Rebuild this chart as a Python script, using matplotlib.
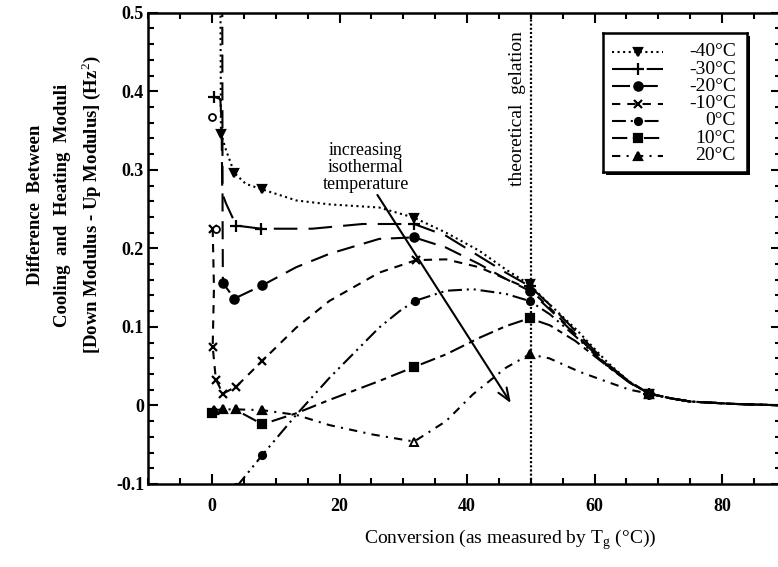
import matplotlib
matplotlib.use("Agg")
import matplotlib.pyplot as plt
from matplotlib.patches import Rectangle
from matplotlib.ticker import MultipleLocator

plt.rcParams['font.family'] = ['Liberation Serif', 'DejaVu Serif']
plt.rcParams['mathtext.fontset'] = 'custom'
plt.rcParams['mathtext.rm'] = 'Liberation Serif'
plt.rcParams['lines.scale_dashes'] = False

# ---- values ----
labels = ['-40°C', '-30°C', '-20°C', '-10°C', '0°C', '10°C', '20°C']

# every curve merges into the same tail after the last point
tail_x = [68.6, 72.0, 75.0, 81.6, 90.0]
tail_y = [0.015, 0.009, 0.005, 0.002, 0.0]

# -40 C  (m = measured points, c = smoothed line as drawn)
m40_x = [1.4, 3.5, 7.9, 31.7, 49.8, 68.6]
m40_y = [0.346, 0.296, 0.275, 0.239, 0.154, 0.015]
c40_x = [1.3, 1.4, 2.2, 3.5, 5.3, 7.9, 13.2, 18.4, 26.2, 31.7, 36.7, 41.9, 46.1, 49.8, 52.9, 57.1, 62.0, 65.5]
c40_y = [0.55, 0.346, 0.325, 0.296, 0.282, 0.275, 0.261, 0.256, 0.252, 0.239, 0.220, 0.197, 0.173, 0.154, 0.129, 0.097, 0.055, 0.030]

# -30 C
m30_x = [0.36, 3.8, 7.7, 31.7, 49.8, 68.6]
m30_y = [0.393, 0.229, 0.225, 0.231, 0.152, 0.015]
c30_x = [0.36, 1.3, 1.5, 1.6, 2.2, 3.8, 7.7, 15.7, 23.6, 31.7, 36.7, 41.9, 46.1, 49.8, 53.0, 57.0, 62.0, 65.5]
c30_y = [0.393, 0.39, 0.36, 0.27, 0.257, 0.229, 0.225, 0.225, 0.231, 0.231, 0.216, 0.19, 0.169, 0.152, 0.128, 0.095, 0.053, 0.03]

# -20 C
m20_x = [1.7, 3.5, 7.9, 31.7, 49.8, 68.6]
m20_y = [0.156, 0.136, 0.153, 0.214, 0.146, 0.015]
c20_x = [1.6, 1.65, 1.7, 3.5, 7.9, 13.2, 18.4, 26.2, 31.7, 36.7, 41.9, 46.1, 49.8, 53.0, 57.0, 62.0, 65.5]
c20_y = [0.55, 0.25, 0.156, 0.136, 0.153, 0.176, 0.193, 0.212, 0.214, 0.201, 0.18, 0.161, 0.146, 0.122, 0.09, 0.051, 0.029]

# -10 C
m10_x = [0.1, 0.1, 0.6, 1.7, 3.8, 7.9, 32.0, 49.8, 68.6]
m10_y = [0.225, 0.075, 0.033, 0.015, 0.024, 0.057, 0.185, 0.148, 0.015]
c10_x = [0.1, 0.3, 0.1, 0.6, 1.7, 3.8, 7.9, 13.2, 18.4, 26.2, 32.0, 36.7, 41.9, 46.1, 49.8, 53.0, 57.0, 62.0, 65.5]
c10_y = [0.225, 0.15, 0.075, 0.033, 0.015, 0.024, 0.057, 0.099, 0.133, 0.169, 0.185, 0.186, 0.176, 0.161, 0.148, 0.124, 0.091, 0.051, 0.029]

# 0 C
p0_x = [3.8, 7.9, 31.8, 49.8, 68.6]
p0_y = [-0.104, -0.063, 0.133, 0.133, 0.015]
q0_x = [3.8, 7.9, 13.2, 18.4, 26.2, 29.4, 31.8, 36.7, 40.9, 46.1, 49.8, 53.0, 57.0, 62.0, 65.5]
q0_y = [-0.104, -0.063, -0.012, 0.035, 0.099, 0.12, 0.133, 0.146, 0.148, 0.142, 0.133, 0.116, 0.088, 0.05, 0.029]
# stray open circles near x = 0
open_x = [0.0, 0.6]
open_y = [0.367, 0.225]

# 10 C
p10_x = [0.0, 7.9, 31.7, 49.8, 68.6]
p10_y = [-0.01, -0.024, 0.049, 0.111, 0.015]
q10_x = [0.0, 3.8, 7.9, 13.2, 18.4, 26.2, 31.7, 36.7, 41.9, 46.1, 49.8, 53.0, 57.0, 62.0, 65.5]
q10_y = [-0.01, -0.006, -0.024, -0.01, 0.007, 0.031, 0.049, 0.065, 0.086, 0.101, 0.111, 0.102, 0.082, 0.05, 0.03]

# 20 C (the point at 31.7 is drawn hollow)
p20_x = [0.3, 1.7, 3.8, 7.9, 49.8, 68.6]
p20_y = [-0.006, -0.005, -0.005, -0.006, 0.065, 0.015]
hollow20_x = [31.7]
hollow20_y = [-0.046]
q20_x = [0.3, 1.7, 3.8, 7.9, 13.2, 18.4, 25.2, 31.7, 36.7, 40.9, 46.1, 49.8, 52.9, 57.6, 62.0, 65.5]
q20_y = [-0.006, -0.005, -0.005, -0.006, -0.012, -0.025, -0.037, -0.046, -0.02, 0.014, 0.048, 0.065, 0.06, 0.043, 0.03, 0.02]

ytick_vals = [-0.1, 0.0, 0.1, 0.2, 0.3, 0.4, 0.5]
ytick_text = ['-0.1', '0', '0.1', '0.2', '0.3', '0.4', '0.5']
xtick_vals = [0, 20, 40, 60, 80]
gel_x = 50

# ---- drawing ----
series = [
    (c40_x, c40_y, m40_x, m40_y, (0, (1.5, 2.5)), 'v', 6),
    (c30_x, c30_y, m30_x, m30_y, (0, (17, 8)), '+', 8),
    (c20_x, c20_y, m20_x, m20_y, (0, (13, 7)), 'o', 6),
    (c10_x, c10_y, m10_x, m10_y, (0, (6, 5)), 'x', 6),
    (q0_x, q0_y, p0_x, p0_y, (0, (10, 3.5, 1.5, 3.5, 1.5, 3.5)), 'o', 5),
    (q10_x, q10_y, p10_x, p10_y, (0, (11, 4, 4, 4)), 's', 6),
    (q20_x, q20_y, p20_x, p20_y, (0, (6, 4.5, 1.5, 4.5)), '^', 6),
]
LW = 1.5

fig = plt.figure(figsize=(7.78, 5.67), dpi=100)
# right spine falls just outside the scanned picture
ax = fig.add_axes([0.1906, 0.1464, 0.8129, 0.8312])
ax.set_xlim(-10, 89.2)
ax.set_ylim(-0.1, 0.5)

for cx, cy, mx, my, ls, mk, ms in series:
    ax.plot(cx + tail_x, cy + tail_y, color='black', ls=ls, lw=LW)
    ax.plot(mx, my, ls='none', marker=mk, ms=ms, color='black', mew=1.6)
ax.plot(open_x, open_y, ls='none', marker='o', ms=5, mfc='white', mec='black', mew=1.3)
ax.plot(hollow20_x, hollow20_y, ls='none', marker='^', ms=6, mfc='white', mec='black', mew=1.4)

ax.axvline(gel_x, color='black', ls=(0, (1.5, 1.5)), lw=1.6)
ax.text(47.9, 0.28, 'theoretical  gelation', rotation=90, ha='center', va='bottom', fontsize=14)

ax.annotate('', xy=(47.1, 0.0), xytext=(25.7, 0.271),
            arrowprops=dict(arrowstyle='->,head_length=0.9,head_width=0.35', lw=1.5, color='black'))
ax.text(24.1, 0.303, 'increasing\nisothermal\ntemperature', ha='center', va='center',
        fontsize=13, linespacing=1.0)

ax.set_xticks(xtick_vals)
ax.set_yticks(ytick_vals)
ax.set_yticklabels(ytick_text)
ax.xaxis.set_minor_locator(MultipleLocator(5))
ax.yaxis.set_minor_locator(MultipleLocator(0.02))
ax.tick_params(which='both', direction='in', top=True, right=True, width=1.5, labelsize=13)
ax.tick_params(which='major', length=7)
ax.tick_params(which='minor', length=4)
ax.tick_params(axis='x', pad=10)
ax.tick_params(axis='y', pad=3)
for t in ax.get_xticklabels() + ax.get_yticklabels():
    t.set_fontweight('bold')
for sp in ax.spines.values():
    sp.set_linewidth(1.8)

# legend box drawn by hand so the labels can sit flush right
lx0, lx1, ly0, ly1 = 603, 747, 33, 172
lax = fig.add_axes([lx0 / 778, 1 - ly1 / 567, (lx1 - lx0) / 778, (ly1 - ly0) / 567])
lax.set_zorder(3)
lax.set_xlim(lx0, lx1)
lax.set_ylim(ly1, ly0)
lax.set_xticks([])
lax.set_yticks([])
for sp in lax.spines.values():
    sp.set_linewidth(1.8)
fig.add_artist(Rectangle(((lx0 + 3) / 778, 1 - (ly1 + 3) / 567), (lx1 - lx0) / 778,
                         (ly1 - ly0) / 567, transform=fig.transFigure,
                         facecolor='black', edgecolor='none', zorder=2))
for i, ((cx, cy, mx, my, ls, mk, ms), lab) in enumerate(zip(series, labels)):
    row = 51.7 + 17.3 * i
    lax.plot([612, 663], [row, row], color='black', ls=ls, lw=LW)
    lax.plot([638], [row], ls='none', marker=mk, ms=ms, color='black', mew=1.6)
    lax.text(736, row, lab, ha='right', va='center', fontsize=14)

ylab = ['Difference  Between', 'Cooling  and  Heating  Moduli',
        '[Down Modulus - Up Modulus] (Hz$^2$)']
for xp, s in zip([36, 63, 91], ylab):
    fig.text(xp / 778, 1 - 205 / 567, s, rotation=90, ha='center', va='center',
             fontsize=13.5, fontweight='bold')
fig.text(510 / 778, 1 - 540 / 567, 'Conversion (as measured by T$_{\\mathrm{g}}$ (°C))',
         ha='center', va='center', fontsize=14)

fig.savefig('out.png', dpi=100)
